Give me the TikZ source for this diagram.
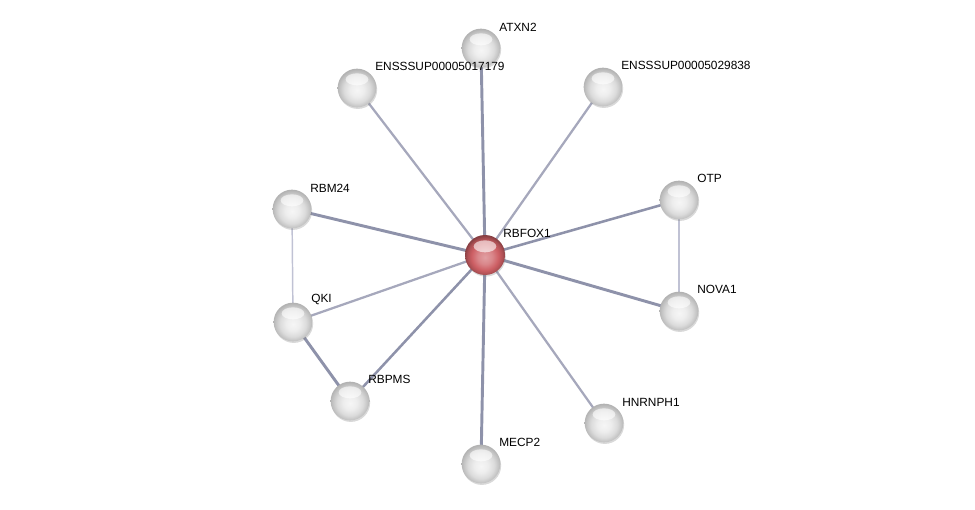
\documentclass[tikz,border=0pt]{standalone}
\usepackage{fontspec}
\setmainfont{Liberation Sans}
\usetikzlibrary{shadows,backgrounds}

\definecolor{edgedark}{RGB}{142,146,170}
\definecolor{edgemid}{RGB}{166,168,188}
\definecolor{edgelight}{RGB}{192,194,212}
\definecolor{hubred}{RGB}{205,95,100}

% glassy spheres
\pgfdeclareradialshading{greysphere}{\pgfpoint{0bp}{-3bp}}{%
    color(0bp)=(gray!7); color(9bp)=(gray!14); color(17bp)=(gray!28);
    color(22bp)=(gray!45); color(26bp)=(gray!60); color(50bp)=(gray!60)}
\pgfdeclareradialshading{redsphere}{\pgfpoint{0bp}{-3bp}}{%
    color(0bp)=(hubred!60!white); color(9bp)=(hubred!75!white); color(17bp)=(hubred);
    color(22bp)=(hubred!85!black); color(26bp)=(hubred!65!black); color(50bp)=(hubred!65!black)}

\tikzset{
    protein/.style={circle, minimum size=29pt, inner sep=0pt, shading=greysphere,
        drop shadow={shadow xshift=0.6pt, shadow yshift=-1.2pt, opacity=0.3}},
    hub/.style={protein, minimum size=30pt, shading=redsphere},
    gloss/.style={white, opacity=0.6},
    plabel/.style={anchor=south west, inner sep=0pt, font=\fontsize{8.9}{10}\selectfont},
    strong/.style={edgedark, line width=2.2pt},
    medium/.style={edgemid, line width=1.7pt},
    weak/.style={edgelight, line width=1.1pt}
}

\begin{document}
\begin{tikzpicture}[x=0.75pt, y=-0.75pt]

    \useasboundingbox (0,0) rectangle (975,510);

    %% Interaction network around RBFOX1

    % Proteins
    \node[hub]     (rbfox) at (485,255) {};
    \node[protein] (atxn)  at (481,48)  {};
    \node[protein] (ensa)  at (357,88)  {};
    \node[protein] (ensb)  at (603,87)  {};
    \node[protein] (otp)   at (679,200) {};
    \node[protein] (nova)  at (679,311) {};
    \node[protein] (hnrn)  at (604,423) {};
    \node[protein] (mecp)  at (481,464) {};
    \node[protein] (rbpms) at (350,401) {};
    \node[protein] (qki)   at (293,322) {};
    \node[protein] (rbm)   at (292,209) {};

    % Highlights on top of each sphere
    \foreach \n in {rbfox, atxn, ensa, ensb, otp, nova, hnrn, mecp, rbpms, qki, rbm}
        \fill[gloss] ([yshift=6.5pt]\n.center) ellipse (8.5pt and 4.5pt);

    % Interactions
    \begin{pgfonlayer}{background}
        \foreach \n in {atxn, nova, mecp, rbm}
            \draw[strong] (rbfox.center) -- (\n.center);
        \foreach \n in {otp, rbpms}
            \draw[strong, line width=1.9pt] (rbfox.center) -- (\n.center);
        \foreach \n in {ensa, ensb, hnrn, qki}
            \draw[medium] (rbfox.center) -- (\n.center);
        \draw[strong] (qki.center) -- (rbpms.center);
        \draw[weak] (rbm.center) -- (qki.center);
        \draw[weak] (otp.center) -- (nova.center);
    \end{pgfonlayer}

    % Labels
    \foreach \n/\t in {rbfox/RBFOX1, atxn/ATXN2, ensa/ENSSSUP00005017179,
        ensb/ENSSSUP00005029838, otp/OTP, nova/NOVA1, hnrn/HNRNPH1,
        mecp/MECP2, rbpms/RBPMS, qki/QKI, rbm/RBM24}
        \node[plabel] (\n-lbl) at ([xshift=13.5pt, yshift=12.5pt]\n.center) {\t};

\end{tikzpicture}
\end{document}
